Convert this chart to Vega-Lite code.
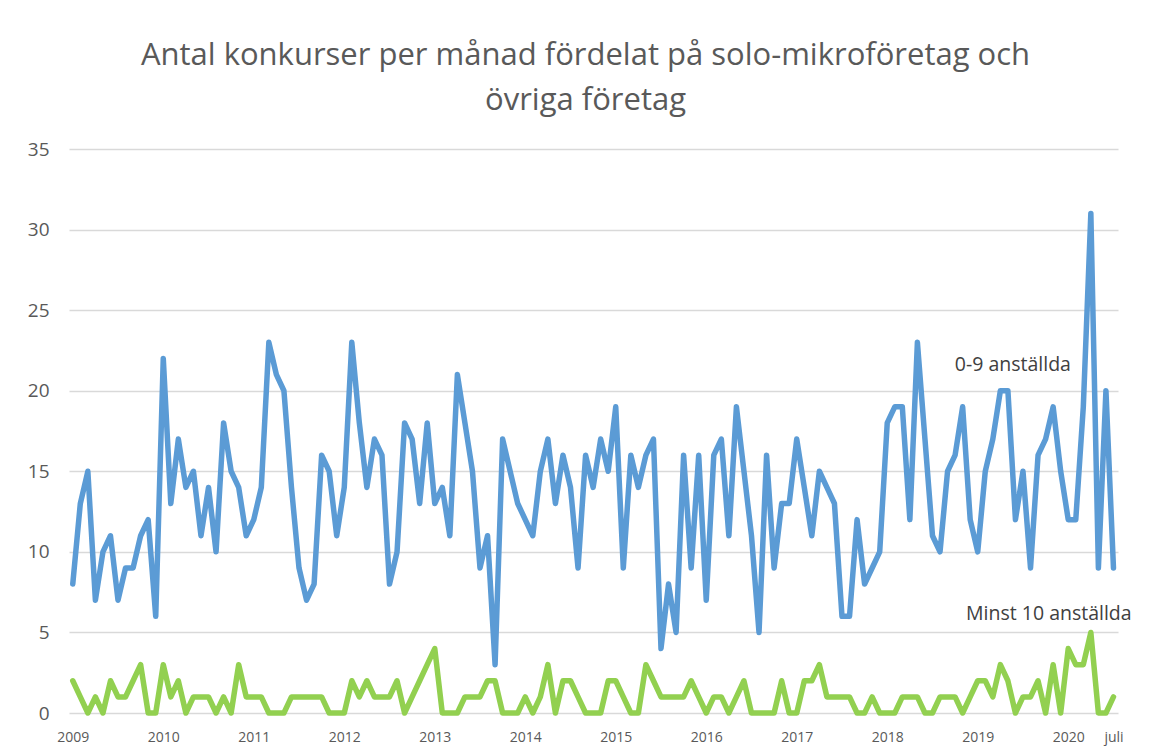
{
  "$schema": "https://vega.github.io/schema/vega-lite/v6.json",
  "autosize": {"type": "none"},
  "width": 1049,
  "height": 564,
  "padding": {"left": 69, "top": 149, "right": 36, "bottom": 36},
  "background": "white",
  "title": {
    "text": ["Antal konkurser per månad fördelat på solo-mikroföretag och", "övriga företag"],
    "font": "Open Sans",
    "fontSize": 31,
    "fontWeight": "normal",
    "color": "#595959",
    "lineHeight": 45,
    "anchor": "middle",
    "dx": -8,
    "offset": 23
  },
  "config": {
    "view": {"stroke": null},
    "axis": {"labelFont": "Open Sans", "labelColor": "#595959", "domain": false, "ticks": false}
  },
  "data": {
    "values": [
      {"m":0,"mikro":8,"minst10":2},{"m":1,"mikro":13,"minst10":1},{"m":2,"mikro":15,"minst10":0},{"m":3,"mikro":7,"minst10":1},{"m":4,"mikro":10,"minst10":0},{"m":5,"mikro":11,"minst10":2},{"m":6,"mikro":7,"minst10":1},{"m":7,"mikro":9,"minst10":1},{"m":8,"mikro":9,"minst10":2},{"m":9,"mikro":11,"minst10":3},{"m":10,"mikro":12,"minst10":0},{"m":11,"mikro":6,"minst10":0},
      {"m":12,"mikro":22,"minst10":3},{"m":13,"mikro":13,"minst10":1},{"m":14,"mikro":17,"minst10":2},{"m":15,"mikro":14,"minst10":0},{"m":16,"mikro":15,"minst10":1},{"m":17,"mikro":11,"minst10":1},{"m":18,"mikro":14,"minst10":1},{"m":19,"mikro":10,"minst10":0},{"m":20,"mikro":18,"minst10":1},{"m":21,"mikro":15,"minst10":0},{"m":22,"mikro":14,"minst10":3},{"m":23,"mikro":11,"minst10":1},
      {"m":24,"mikro":12,"minst10":1},{"m":25,"mikro":14,"minst10":1},{"m":26,"mikro":23,"minst10":0},{"m":27,"mikro":21,"minst10":0},{"m":28,"mikro":20,"minst10":0},{"m":29,"mikro":14,"minst10":1},{"m":30,"mikro":9,"minst10":1},{"m":31,"mikro":7,"minst10":1},{"m":32,"mikro":8,"minst10":1},{"m":33,"mikro":16,"minst10":1},{"m":34,"mikro":15,"minst10":0},{"m":35,"mikro":11,"minst10":0},
      {"m":36,"mikro":14,"minst10":0},{"m":37,"mikro":23,"minst10":2},{"m":38,"mikro":18,"minst10":1},{"m":39,"mikro":14,"minst10":2},{"m":40,"mikro":17,"minst10":1},{"m":41,"mikro":16,"minst10":1},{"m":42,"mikro":8,"minst10":1},{"m":43,"mikro":10,"minst10":2},{"m":44,"mikro":18,"minst10":0},{"m":45,"mikro":17,"minst10":1},{"m":46,"mikro":13,"minst10":2},{"m":47,"mikro":18,"minst10":3},
      {"m":48,"mikro":13,"minst10":4},{"m":49,"mikro":14,"minst10":0},{"m":50,"mikro":11,"minst10":0},{"m":51,"mikro":21,"minst10":0},{"m":52,"mikro":18,"minst10":1},{"m":53,"mikro":15,"minst10":1},{"m":54,"mikro":9,"minst10":1},{"m":55,"mikro":11,"minst10":2},{"m":56,"mikro":3,"minst10":2},{"m":57,"mikro":17,"minst10":0},{"m":58,"mikro":15,"minst10":0},{"m":59,"mikro":13,"minst10":0},
      {"m":60,"mikro":12,"minst10":1},{"m":61,"mikro":11,"minst10":0},{"m":62,"mikro":15,"minst10":1},{"m":63,"mikro":17,"minst10":3},{"m":64,"mikro":13,"minst10":0},{"m":65,"mikro":16,"minst10":2},{"m":66,"mikro":14,"minst10":2},{"m":67,"mikro":9,"minst10":1},{"m":68,"mikro":16,"minst10":0},{"m":69,"mikro":14,"minst10":0},{"m":70,"mikro":17,"minst10":0},{"m":71,"mikro":15,"minst10":2},
      {"m":72,"mikro":19,"minst10":2},{"m":73,"mikro":9,"minst10":1},{"m":74,"mikro":16,"minst10":0},{"m":75,"mikro":14,"minst10":0},{"m":76,"mikro":16,"minst10":3},{"m":77,"mikro":17,"minst10":2},{"m":78,"mikro":4,"minst10":1},{"m":79,"mikro":8,"minst10":1},{"m":80,"mikro":5,"minst10":1},{"m":81,"mikro":16,"minst10":1},{"m":82,"mikro":9,"minst10":2},{"m":83,"mikro":16,"minst10":1},
      {"m":84,"mikro":7,"minst10":0},{"m":85,"mikro":16,"minst10":1},{"m":86,"mikro":17,"minst10":1},{"m":87,"mikro":11,"minst10":0},{"m":88,"mikro":19,"minst10":1},{"m":89,"mikro":15,"minst10":2},{"m":90,"mikro":11,"minst10":0},{"m":91,"mikro":5,"minst10":0},{"m":92,"mikro":16,"minst10":0},{"m":93,"mikro":9,"minst10":0},{"m":94,"mikro":13,"minst10":2},{"m":95,"mikro":13,"minst10":0},
      {"m":96,"mikro":17,"minst10":0},{"m":97,"mikro":14,"minst10":2},{"m":98,"mikro":11,"minst10":2},{"m":99,"mikro":15,"minst10":3},{"m":100,"mikro":14,"minst10":1},{"m":101,"mikro":13,"minst10":1},{"m":102,"mikro":6,"minst10":1},{"m":103,"mikro":6,"minst10":1},{"m":104,"mikro":12,"minst10":0},{"m":105,"mikro":8,"minst10":0},{"m":106,"mikro":9,"minst10":1},{"m":107,"mikro":10,"minst10":0},
      {"m":108,"mikro":18,"minst10":0},{"m":109,"mikro":19,"minst10":0},{"m":110,"mikro":19,"minst10":1},{"m":111,"mikro":12,"minst10":1},{"m":112,"mikro":23,"minst10":1},{"m":113,"mikro":17,"minst10":0},{"m":114,"mikro":11,"minst10":0},{"m":115,"mikro":10,"minst10":1},{"m":116,"mikro":15,"minst10":1},{"m":117,"mikro":16,"minst10":1},{"m":118,"mikro":19,"minst10":0},{"m":119,"mikro":12,"minst10":1},
      {"m":120,"mikro":10,"minst10":2},{"m":121,"mikro":15,"minst10":2},{"m":122,"mikro":17,"minst10":1},{"m":123,"mikro":20,"minst10":3},{"m":124,"mikro":20,"minst10":2},{"m":125,"mikro":12,"minst10":0},{"m":126,"mikro":15,"minst10":1},{"m":127,"mikro":9,"minst10":1},{"m":128,"mikro":16,"minst10":2},{"m":129,"mikro":17,"minst10":0},{"m":130,"mikro":19,"minst10":3},{"m":131,"mikro":15,"minst10":0},
      {"m":132,"mikro":12,"minst10":4},{"m":133,"mikro":12,"minst10":3},{"m":134,"mikro":19,"minst10":3},{"m":135,"mikro":31,"minst10":5},{"m":136,"mikro":9,"minst10":0},{"m":137,"mikro":20,"minst10":0},{"m":138,"mikro":9,"minst10":1}
    ]
  },
  "encoding": {
    "x": {
      "field": "m",
      "type": "quantitative",
      "scale": {"domain": [-0.5, 138.6], "nice": false, "zero": false},
      "axis": {
        "title": null,
        "grid": false,
        "values": [0, 12, 24, 36, 48, 60, 72, 84, 96, 108, 120, 132, 138],
        "labelExpr": "datum.value == 138 ? 'juli' : toString(2009 + datum.value / 12)",
        "labelFontSize": 14,
        "labelPadding": 17,
        "labelOverlap": false,
        "labelFlush": false
      }
    }
  },
  "layer": [
    {
      "mark": {"type": "line", "color": "#5b9bd5", "strokeWidth": 5.5, "strokeJoin": "round", "strokeCap": "round"},
      "encoding": {
        "y": {
          "field": "mikro",
          "type": "quantitative",
          "scale": {"domain": [0, 35], "nice": false},
          "axis": {
            "title": null,
            "values": [0, 5, 10, 15, 20, 25, 30, 35],
            "grid": true,
            "gridColor": "#d9d9d9",
            "gridWidth": 1.3,
            "labelFontSize": 19,
            "labelPadding": 20
          }
        }
      }
    },
    {
      "mark": {"type": "line", "color": "#92d050", "strokeWidth": 5.5, "strokeJoin": "round", "strokeCap": "round"},
      "encoding": {"y": {"field": "minst10", "type": "quantitative"}}
    },
    {
      "transform": [{"filter": "datum.m == 124"}],
      "mark": {"type": "text", "text": "0-9 anställda", "font": "Open Sans", "fontSize": 19.5, "color": "#404040", "dx": 5, "dy": -26, "align": "center", "baseline": "middle"},
      "encoding": {"y": {"field": "mikro", "type": "quantitative"}}
    },
    {
      "transform": [{"filter": "datum.m == 135"}],
      "mark": {"type": "text", "text": "Minst 10 anställda", "font": "Open Sans", "fontSize": 19.5, "color": "#404040", "dx": -42, "dy": -18, "align": "center", "baseline": "middle"},
      "encoding": {"y": {"field": "minst10", "type": "quantitative"}}
    }
  ]
}
